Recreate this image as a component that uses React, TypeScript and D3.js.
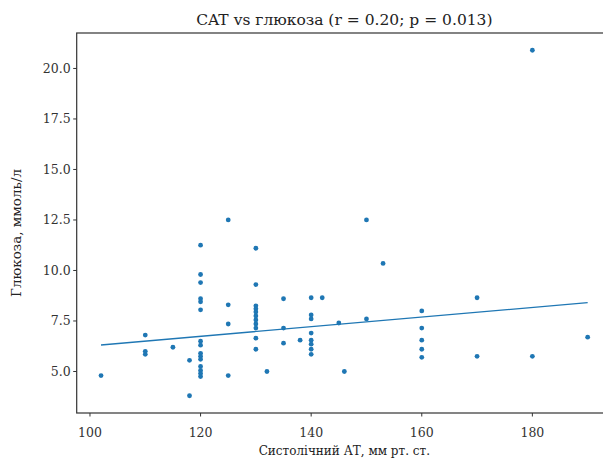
import React from "react";
import * as d3 from "d3";

const sbp = [
  102,
  110, 110, 110,
  115,
  118, 118,
  120, 120, 120, 120, 120, 120, 120, 120, 120, 120, 120, 120, 120, 120, 120,
  125, 125, 125, 125,
  130, 130, 130, 130, 130, 130, 130, 130, 130, 130, 130,
  132,
  135, 135, 135,
  138,
  140, 140, 140, 140, 140, 140, 140, 140,
  142,
  145,
  146,
  150, 150,
  153,
  160, 160, 160, 160, 160,
  170, 170,
  180, 180,
  190,
];
const glucose = [
  4.8,
  6.8, 6.0, 5.85,
  6.2,
  5.55, 3.8,
  11.25, 9.8, 9.4, 8.6, 8.45, 8.05, 6.5, 6.3, 5.9, 5.75, 5.6, 5.25, 5.05, 4.9, 4.75,
  12.5, 8.3, 7.35, 4.8,
  11.1, 9.3, 8.25, 8.1, 7.95, 7.75, 7.55, 7.35, 7.15, 6.65, 6.1,
  5.0,
  8.6, 7.15, 6.4,
  6.55,
  8.65, 7.8, 7.6, 6.9, 6.55, 6.35, 6.1, 5.85,
  8.65,
  7.4,
  5.0,
  12.5, 7.6,
  10.35,
  8.0, 7.15, 6.55, 6.1, 5.7,
  8.65, 5.75,
  20.9, 5.75,
  6.7,
];
const fitX = [102, 190];
const fitY = [6.31, 8.41];
const xTicks = [100, 120, 140, 160, 180];
const yTicks = [5.0, 7.5, 10.0, 12.5, 15.0, 17.5, 20.0];

const title = "CAT vs глюкоза (r = 0.20; p = 0.013)";
const xLabel = "Систолічний АТ, мм рт. ст.";
const yLabel = "Глюкоза, ммоль/л";

export default function App() {
  const W = 603, H = 459;
  const left = 76.7, right = 612, top = 33, bottom = 413;
  const x = d3.scaleLinear().domain([97.6, 194.4]).range([left, right]);
  const y = d3.scaleLinear().domain([2.945, 21.755]).range([bottom, top]);
  const color = "#1f77b4";
  const font = "'DejaVu Serif', serif";
  const line = d3.line<number>().x((d) => x(fitX[d])).y((d) => y(fitY[d]));
  return (
    <svg width={W} height={H} style={{ position: "absolute", left: 0, top: 0, background: "#fff" }}>
      <rect x={0} y={0} width={W} height={H} fill="#fff" />
      <text x={(left + right) / 2} y={25} textAnchor="middle" fontFamily={font} fontSize={15.5} fill="#222">
        {title}
      </text>
      {sbp.map((v, i) => (
        <circle key={i} cx={x(v)} cy={y(glucose[i])} r={2.4} fill={color} />
      ))}
      <path d={line([0, 1]) || ""} fill="none" stroke={color} strokeWidth={1.3} />
      <rect x={left} y={top} width={right - left} height={bottom - top} fill="none" stroke="#333" strokeWidth={1.2} />
      {xTicks.map((t) => (
        <g key={t}>
          <line x1={x(t)} x2={x(t)} y1={bottom} y2={bottom + 3.5} stroke="#333" />
          <text x={x(t)} y={437} textAnchor="middle" fontFamily={font} fontSize={12.5} fill="#333">
            {t}
          </text>
        </g>
      ))}
      {yTicks.map((t) => (
        <g key={t}>
          <line x1={left - 3.5} x2={left} y1={y(t)} y2={y(t)} stroke="#333" />
          <text x={left - 6} y={y(t) + 4.5} textAnchor="end" fontFamily={font} fontSize={12.5} fill="#333">
            {t.toFixed(1)}
          </text>
        </g>
      ))}
      <text x={(left + right) / 2} y={455} textAnchor="middle" fontFamily={font} fontSize={12} fill="#222">
        {xLabel}
      </text>
      <text
        transform={`translate(21,${(top + bottom) / 2 + 10}) rotate(-90)`}
        textAnchor="middle"
        fontFamily={font}
        fontSize={13.5}
        fill="#222"
      >
        {yLabel}
      </text>
    </svg>
  );
}
